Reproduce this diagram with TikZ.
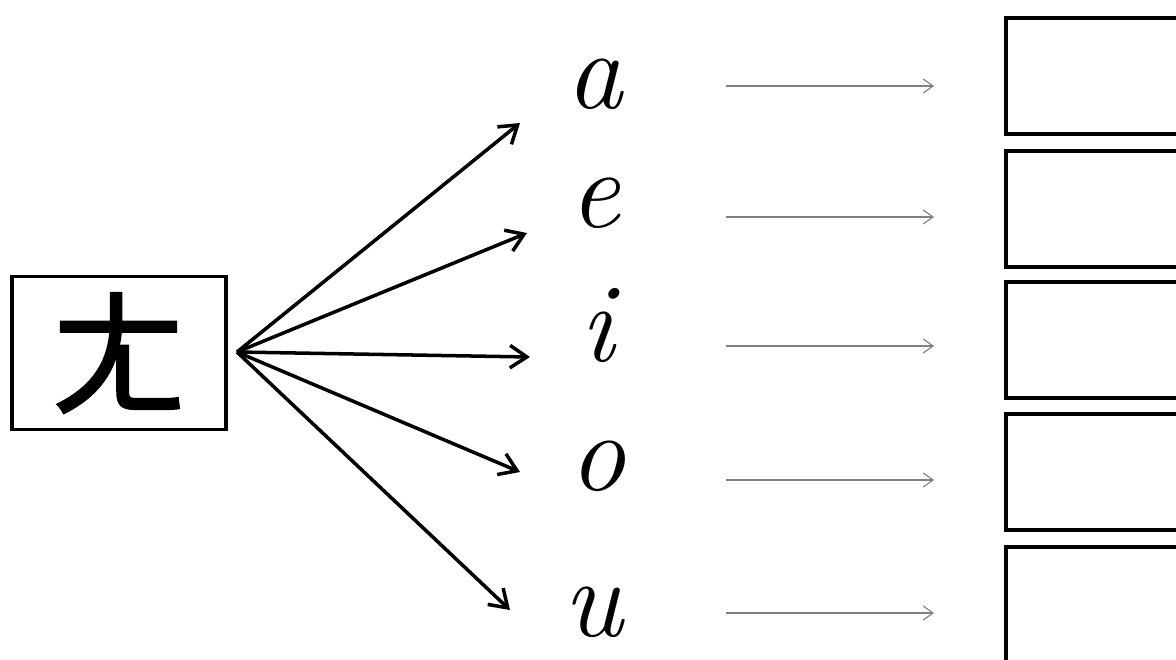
\documentclass[tikz,border=0pt]{standalone}
\usepackage{fontspec}
\newfontfamily\cjk[FakeBold=1.6]{Noto Sans CJK SC}
\usetikzlibrary{arrows.meta}
\begin{document}
\begin{tikzpicture}[x=0.025cm,y=-0.025cm,
  srcbox/.style={draw, line width=2.6pt, minimum width=5.35cm, minimum height=3.83cm, inner sep=0pt},
  letter/.style={inner sep=0pt, font=\fontsize{80}{80}\selectfont\itshape},
  ansbox/.style={draw, line width=2.6pt, anchor=west, minimum width=6cm, minimum height=2.9cm, inner sep=0pt},
  fan/.style={line width=2.5pt, -{Straight Barb[length=12pt,width=16pt,line width=2.5pt]}},
  link/.style={draw=gray, line width=0.8pt, -{Straight Barb[length=7pt,width=10pt,line width=0.8pt]}}
]
\useasboundingbox (0,0) rectangle (1176,659);
\clip (0,0) rectangle (1176,659);

\node[srcbox] (L) at (119,353) {\fontsize{98}{98}\selectfont\cjk ㄤ};
\coordinate (src) at (237,352);

\node[letter] (a) at (595,84) {a};
\node[letter] (e) at (595,203) {e};
\node[letter] (i) at (597,325) {i};
\node[letter] (o) at (598,466) {o};
\node[letter] (u) at (593,612) {u};

\coordinate (ta) at (520,123);
\coordinate (te) at (527,233);
\coordinate (ti) at (530,357);
\coordinate (to) at (520,472);
\coordinate (tu) at (510,610);

\draw[fan] (src) -- (ta);
\draw[fan] (src) -- (te);
\draw[fan] (src) -- (ti);
\draw[fan] (src) -- (to);
\draw[fan] (src) -- (tu);

\node[ansbox] (b1) at (1004,76) {};
\node[ansbox] (b2) at (1004,209) {};
\node[ansbox] (b3) at (1004,340) {};
\node[ansbox] (b4) at (1004,472) {};
\node[ansbox] (b5) at (1004,605) {};

\foreach \n/\y in {1/86,2/217,3/346,4/480,5/613}{
  \coordinate (s\n) at (726,\y);
  \coordinate (e\n) at (934,\y);
  \draw[link] (s\n) -- (e\n);
}
\end{tikzpicture}
\end{document}
